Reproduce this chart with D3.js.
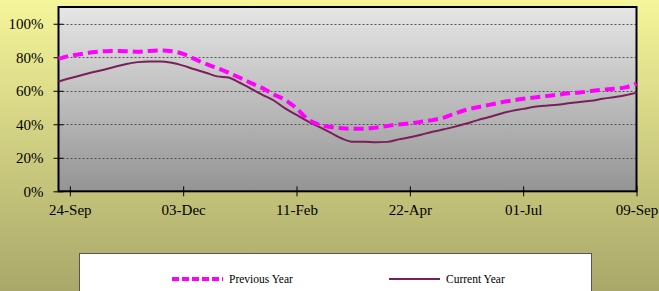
<!DOCTYPE html>
<html>
<head>
<meta charset="utf-8">
<script src="https://cdn.jsdelivr.net/npm/d3@7"></script>
<style>
  html, body { margin: 0; padding: 0; }
  body { width: 659px; height: 291px; overflow: hidden; }
  svg { display: block; font-family: "Liberation Serif", "Times New Roman", serif; }
</style>
</head>
<body>
<div id="chart"></div>
<script>
// --- Data ---
const START_DATE = "2006-09-17"; // weekly points, 17-Sep .. 09-Sep
const tickLabels = ["24-Sep", "03-Dec", "11-Feb", "22-Apr", "01-Jul", "09-Sep"];
const yTicks = [0, 20, 40, 60, 80, 100];

const previousYear = [
  79, 80.9, 81.9, 83, 83.6, 83.7, 83.6, 83.3, 83.8, 84,
  83.6, 82, 79, 76, 73.5, 70.8, 67.8, 64.6, 61.6, 57.8,
  54.5, 49.5, 43, 39.8, 38.4, 37.6, 37.3, 37.3, 38, 39,
  39.9, 40.5, 41.5, 42.5, 44, 46.5, 48.7, 50.2, 51.6, 53,
  54.2, 55.2, 56, 56.8, 57.6, 58.5, 59, 59.8, 60.6, 61.2,
  62, 64.2
];
const currentYear = [
  65.5, 67.5, 69.3, 71, 72.6, 74.3, 76, 77.1, 77.5, 77.5,
  76.7, 75, 72.8, 70.8, 68.6, 67.9, 64.8, 61.2, 57.6, 54.2,
  49.5, 45.6, 41.8, 38.4, 35, 31.5, 29.5, 29.6, 29.3, 29.5,
  31, 32.2, 33.8, 35.5, 37, 38.6, 40.5, 42.5, 44.3, 46.3,
  48, 49.2, 50.4, 51.1, 51.6, 52.5, 53.3, 54, 55.2, 56.2,
  57.3, 58.9
];

// --- Layout ---
const WIDTH = 659;
const HEIGHT = 291;
const PLOT = { left: 58.5, top: 7, right: 636.5, bottom: 191.3 };
const FONT = "Liberation Serif, Times New Roman, serif";

const parse = d3.timeParse("%Y-%m-%d");
const start = parse(START_DATE);
const dates = previousYear.map((_, i) => d3.timeDay.offset(start, i * 7));
const tickDates = tickLabels.map((_, i) => d3.timeDay.offset(start, 7 + i * 70));

const x = d3.scaleTime()
  .domain([start, dates[dates.length - 1]])
  .range([PLOT.left, PLOT.right]);
const y = d3.scaleLinear()
  .domain([0, 110])
  .range([PLOT.bottom, PLOT.top]);

const svg = d3.select("#chart").append("svg")
  .attr("width", WIDTH)
  .attr("height", HEIGHT);

const defs = svg.append("defs");
const bg = defs.append("linearGradient").attr("id", "bgGrad")
  .attr("x1", 0).attr("y1", 0).attr("x2", 0).attr("y2", 1);
bg.append("stop").attr("offset", "0%").attr("stop-color", "#f5f59a");
bg.append("stop").attr("offset", "100%").attr("stop-color", "#a9a86a");

const pg = defs.append("linearGradient").attr("id", "plotGrad")
  .attr("x1", 0).attr("y1", 0).attr("x2", 0).attr("y2", 1);
pg.append("stop").attr("offset", "0%").attr("stop-color", "#e6e6e6");
pg.append("stop").attr("offset", "100%").attr("stop-color", "#949494");

svg.append("rect")
  .attr("width", WIDTH).attr("height", HEIGHT)
  .attr("fill", "url(#bgGrad)");

svg.append("rect")
  .attr("x", PLOT.left).attr("y", PLOT.top)
  .attr("width", PLOT.right - PLOT.left)
  .attr("height", PLOT.bottom - PLOT.top)
  .attr("fill", "url(#plotGrad)");

// gridlines
svg.append("g")
  .selectAll("line")
  .data(yTicks.filter(d => d > 0))
  .join("line")
  .attr("x1", PLOT.left).attr("x2", PLOT.right)
  .attr("y1", d => Math.round(y(d)) + 0.5)
  .attr("y2", d => Math.round(y(d)) + 0.5)
  .attr("stroke", "#555")
  .attr("stroke-width", 1)
  .attr("stroke-dasharray", "2,2");

// plot border
svg.append("rect")
  .attr("x", PLOT.left).attr("y", PLOT.top)
  .attr("width", PLOT.right - PLOT.left)
  .attr("height", PLOT.bottom - PLOT.top)
  .attr("fill", "none")
  .attr("stroke", "#000")
  .attr("stroke-width", 2);

// y axis
const yAxis = d3.axisLeft(y)
  .tickValues(yTicks)
  .tickFormat(d => d + "%")
  .tickSizeInner(5)
  .tickSizeOuter(0)
  .tickPadding(10);
const yG = svg.append("g")
  .attr("transform", `translate(${PLOT.left},0)`)
  .call(yAxis);
yG.select(".domain").remove();
yG.selectAll(".tick line").attr("x2", 5).attr("x1", -5).attr("stroke", "#000");
yG.selectAll("text")
  .attr("font-family", FONT)
  .attr("font-size", 15)
  .attr("fill", "#000");

// x axis
const xAxis = d3.axisBottom(x)
  .tickValues(tickDates)
  .tickFormat((d, i) => tickLabels[i])
  .tickSizeInner(5)
  .tickSizeOuter(0)
  .tickPadding(8);
const xG = svg.append("g")
  .attr("transform", `translate(0,${PLOT.bottom})`)
  .call(xAxis);
xG.select(".domain").remove();
xG.selectAll(".tick line").attr("y1", -5).attr("y2", 5).attr("stroke", "#000");
xG.selectAll("text")
  .attr("font-family", FONT)
  .attr("font-size", 15)
  .attr("fill", "#000");

// lines
const line = d3.line()
  .x((d, i) => x(dates[i]))
  .y(d => y(d))
  .curve(d3.curveMonotoneX);

svg.append("path")
  .datum(currentYear)
  .attr("fill", "none")
  .attr("stroke", "#7a1f5a")
  .attr("stroke-width", 2)
  .attr("d", line);

svg.append("path")
  .datum(previousYear)
  .attr("fill", "none")
  .attr("stroke", "#ff00ff")
  .attr("stroke-width", 4)
  .attr("stroke-dasharray", "10,5")
  .attr("d", line);

// legend
const legend = svg.append("g");
legend.append("rect")
  .attr("x", 79.5).attr("y", 253.5)
  .attr("width", 512).attr("height", 60)
  .attr("fill", "#fff")
  .attr("stroke", "#555")
  .attr("stroke-width", 1);

const legendItems = [
  { name: "Previous Year", color: "#ff00ff", width: 4, dash: "7,3", x: 172 },
  { name: "Current Year", color: "#7a1f5a", width: 2, dash: null, x: 389 }
];
const item = legend.selectAll("g.item")
  .data(legendItems)
  .join("g")
  .attr("class", "item")
  .attr("transform", d => `translate(${d.x},279)`);
item.append("line")
  .attr("x1", 0).attr("x2", 51)
  .attr("stroke", d => d.color)
  .attr("stroke-width", d => d.width)
  .attr("stroke-dasharray", d => d.dash);
item.append("text")
  .attr("x", 57)
  .attr("dy", "0.35em")
  .attr("font-family", FONT)
  .attr("font-size", 11.5)
  .attr("fill", "#000")
  .text(d => d.name);
</script>
</body>
</html>
